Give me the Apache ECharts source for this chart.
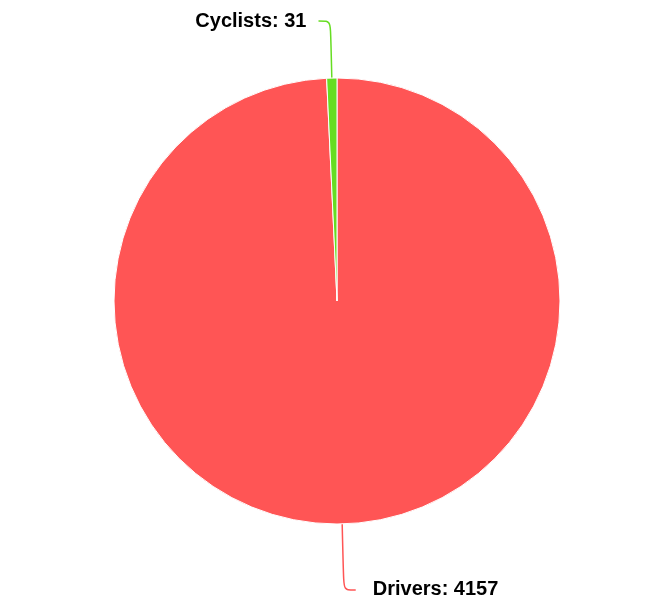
<!DOCTYPE html>
<html>
<head>
<meta charset="utf-8">
<script src="https://cdn.jsdelivr.net/npm/echarts@6/dist/echarts.min.js"></script>
<style>
  html, body { margin: 0; padding: 0; background: #fff; }
  #chart { width: 668px; height: 603px; }
</style>
</head>
<body>
<div id="chart"></div>
<script>
var categories = ["Drivers", "Cyclists"];
var values = [4157, 31];
var colors = ["#ff5555", "#66dd22"];

var myChart = echarts.init(document.getElementById("chart"));

var lineLengths = [66, 57];
var labelGaps = [17, 12];

var data = categories.map(function (name, i) {
    return {
        name: name,
        value: values[i],
        itemStyle: { color: colors[i] },
        label: { distanceToLabelLine: labelGaps[i] },
        labelLine: { length: lineLengths[i] }
    };
});

var option = {
    animation: false,
    series: [
        {
            type: "pie",
            center: ["337px", "301px"],
            radius: [0, 223],
            startAngle: 90,
            clockwise: true,
            data: data,
            itemStyle: {
                borderColor: "#ffffff",
                borderWidth: 1
            },
            label: {
                formatter: "{b}: {c}",
                color: "#000",
                fontSize: 20,
                fontWeight: "bold",
                fontFamily: "Liberation Sans, Arial, sans-serif"
            },
            labelLine: {
                length2: 12,
                smooth: true,
                lineStyle: { width: 1.5 }
            }
        }
    ]
};

myChart.setOption(option);
</script>
</body>
</html>
